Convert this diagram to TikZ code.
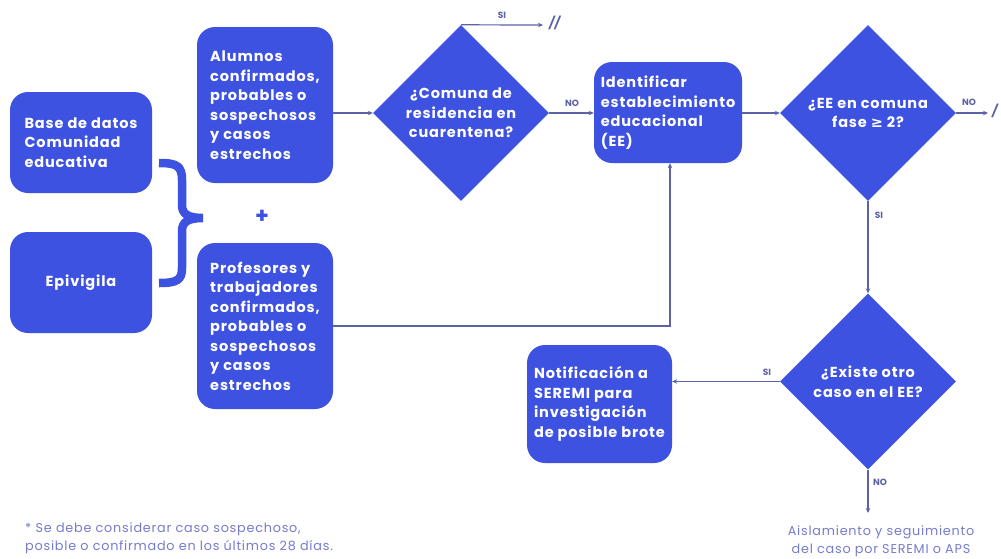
\documentclass[tikz,border=0pt]{standalone}
\usepackage{fontspec}
\setmainfont{Poppins}
\newfontfamily\boxfont[LetterSpace=6]{Poppins}
\newfontfamily\notefont[LetterSpace=6]{Poppins}
\newfontfamily\symfont{DejaVu Sans}
\usetikzlibrary{shapes.geometric,arrows.meta}
\definecolor{boxblue}{RGB}{62,82,226}
\definecolor{linec}{RGB}{92,98,165}
\definecolor{notec}{RGB}{118,124,205}
\begin{document}
\begin{tikzpicture}[x=1pt,y=-1pt,
  bx/.style={fill=boxblue, rounded corners=18pt, text=white, font=\boxfont\bfseries\fontsize{14.5}{19.5}\selectfont, align=left, inner sep=0pt, anchor=center},
  dm/.style={diamond, shape aspect=1, fill=boxblue, text=white, font=\boxfont\bfseries\fontsize{14.5}{19.5}\selectfont, align=center, inner sep=0pt, minimum width=176pt, minimum height=176pt},
  ar/.style={draw=linec, line width=1.2pt, -{Stealth[length=5pt,width=4.5pt]}},
  lbl/.style={text=linec, font=\bfseries\fontsize{9}{9}\selectfont, inner sep=0pt},
  note/.style={text=notec, font=\notefont\fontsize{12.8}{17.5}\selectfont, align=left, inner sep=0pt}
]
\useasboundingbox (0,0) rectangle (1001,558);
\fill[white] (0,0) rectangle (1001,558);

% left sources
\node[bx, minimum width=142pt, minimum height=101pt] (bd) at (81,142.5) {Base de datos\\Comunidad\\educativa};
\node[bx, minimum width=142pt, minimum height=101pt, align=center] (ep) at (81,282.5) {Epivigila};

% brace
\draw[boxblue, line width=8.5pt, line join=miter] (159,163) .. controls (177,163) and (182,166) .. (182,180) -- (182,205) .. controls (182,214) and (188,218) .. (203,218) .. controls (188,218) and (182,222) .. (182,231) -- (182,268) .. controls (182,280) and (177,283) .. (159,283);

% case boxes
\node[bx, minimum width=136pt, minimum height=156pt] (al) at (265,105) {Alumnos\\confirmados,\\probables o\\sospechosos\\y casos\\estrechos};
\node[text=boxblue, font=\bfseries\fontsize{22}{22}\selectfont, inner sep=0pt] (plus) at (262,217) {+};
\node[bx, minimum width=136pt, minimum height=166pt] (pr) at (265,326) {Profesores y\\trabajadores\\confirmados,\\probables o\\sospechosos\\y casos\\estrechos};

% decisions
\node[dm] (d1) at (461,113) {¿Comuna de\\residencia en\\cuarentena?};
\node[bx, minimum width=148pt, minimum height=101pt] (id) at (668,112.5) {Identificar\\establecimiento\\educacional\\(EE)};
\node[dm] (d2) at (868,113) {¿EE en comuna\\fase {\symfont ≥} 2?};
\node[dm] (d3) at (868,381.5) {¿Existe otro\\caso en el EE?};
\node[bx, minimum width=145pt, minimum height=118pt] (nt) at (599.5,404) {Notificación a\\SEREMI para\\investigación\\de posible brote};

% end markers
\coordinate (siend) at (543,25);
\node[text=linec, font=\bfseries\itshape\fontsize{12}{12}\selectfont, inner sep=0pt, anchor=west] (slash1) at (549,23) {//};
\coordinate (noend) at (988,113);
\node[text=linec, font=\bfseries\itshape\fontsize{12}{12}\selectfont, inner sep=0pt, anchor=west] (slash2) at (992,111) {/};
\coordinate (noend3) at (868,513);

% connectors
\draw[ar] (al.east |- d1.west) -- (d1.west);
\draw[ar] (d1.north) -- (siend);
\node[lbl] at (502,15) {SI};
\draw[ar] (d1.east) -- (id.west |- d1.east);
\node[lbl] at (572,103) {NO};
\draw[ar] (id.east |- d2.west) -- (d2.west);
\draw[ar] (d2.east) -- (noend);
\node[lbl] at (969,102) {NO};
\draw[ar] (pr.east) -| ([xshift=2pt]id.south);
\draw[ar] (d2.south) -- (d3.north);
\node[lbl] at (879,215) {SI};
\draw[ar] (d3.west) -- (nt.east |- d3.west);
\node[lbl] at (767,372) {SI};
\draw[ar] (d3.south) -- (noend3);
\node[lbl] at (880,482) {NO};

% notes
\node[note, align=center, anchor=north] (ais) at (881,526) {Aislamiento y seguimiento\\del caso por SEREMI o APS};
\node[note, anchor=north west] (fn) at (25,523) {* Se debe considerar caso sospechoso,\\posible o confirmado en los últimos 28 días.};
\end{tikzpicture}
\end{document}
